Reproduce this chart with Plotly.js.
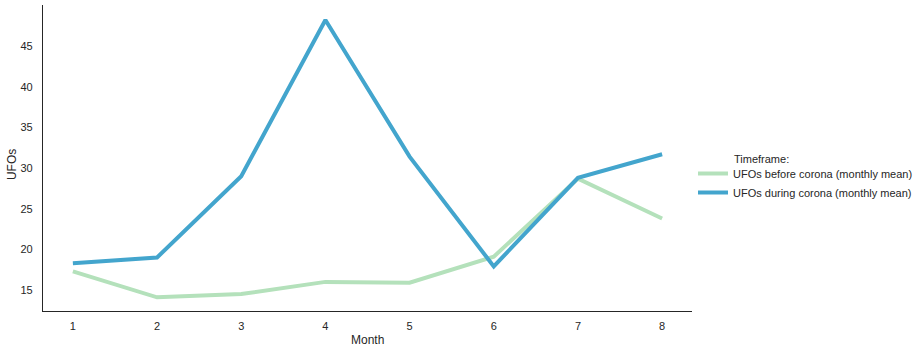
<!DOCTYPE html>
<html><head><meta charset="utf-8">
<script src="https://cdn.plot.ly/plotly-3.0.1.min.js"></script>
<style>body{margin:0;background:#fff}#c{width:922px;height:352px}</style>
</head><body><div id="c"></div>
<script>
const months = [1, 2, 3, 4, 5, 6, 7, 8];
const beforeCorona = [17.3, 14.1, 14.5, 16.0, 15.9, 19.1, 28.7, 23.8];
const duringCorona = [18.3, 19.0, 29.0, 48.2, 31.4, 17.9, 28.8, 31.7];
const seriesNames = ["UFOs before corona (monthly mean)", "UFOs during corona (monthly mean)"];
const legendTitle = "Timeframe:";
const xTitle = "Month";
const yTitle = "UFOs";
const yTicks = [15, 20, 25, 30, 35, 40, 45];

const font = {family: "Liberation Sans, Arial, sans-serif", size: 11, color: "#262626"};
const data = [
  {x: months, y: beforeCorona, type: "scatter", mode: "lines", name: seriesNames[0],
   line: {color: "#b4e1bb", width: 4}},
  {x: months, y: duringCorona, type: "scatter", mode: "lines", name: seriesNames[1],
   line: {color: "#43a5cd", width: 4}}
];
const W = 650, H = 306, L = 43, T = 5;
const px = v => (v - L) / W, py = v => (T + H - v) / H;
const layout = {
  width: 922, height: 352,
  margin: {l: L, r: 229, t: T, b: 41},
  paper_bgcolor: "#fff", plot_bgcolor: "#fff",
  font: font,
  showlegend: true,
  xaxis: {range: [0.645, 8.355], tickvals: months, showgrid: false, zeroline: false,
          showline: true, linecolor: "#262626", linewidth: 1.2, ticks: "", ticklabelstandoff: 5},
  yaxis: {range: [12.42, 50.05], tickvals: yTicks, showgrid: false, zeroline: false,
          showline: true, linecolor: "#262626", linewidth: 1.2, ticks: "", ticklabelstandoff: 7},
  legend: {x: 1.0, xanchor: "left", y: py(159), yanchor: "top", bgcolor: "rgba(0,0,0,0)",
           font: {size: 11, color: "#262626"}, tracegroupgap: 0},
  annotations: [
    {text: legendTitle, xref: "paper", yref: "paper", x: px(733), y: py(159),
     xanchor: "left", yanchor: "middle", showarrow: false, font: {size: 11, color: "#262626"}},
    {text: xTitle, xref: "paper", yref: "paper", x: px(368), y: py(340),
     xanchor: "center", yanchor: "middle", showarrow: false, font: {size: 12, color: "#262626"}},
    {text: yTitle, xref: "paper", yref: "paper", x: px(12), y: py(165), textangle: -90,
     xanchor: "center", yanchor: "middle", showarrow: false, font: {size: 12, color: "#262626"}}
  ]
};
Plotly.newPlot("c", data, layout, {displayModeBar: false});
</script></body></html>
